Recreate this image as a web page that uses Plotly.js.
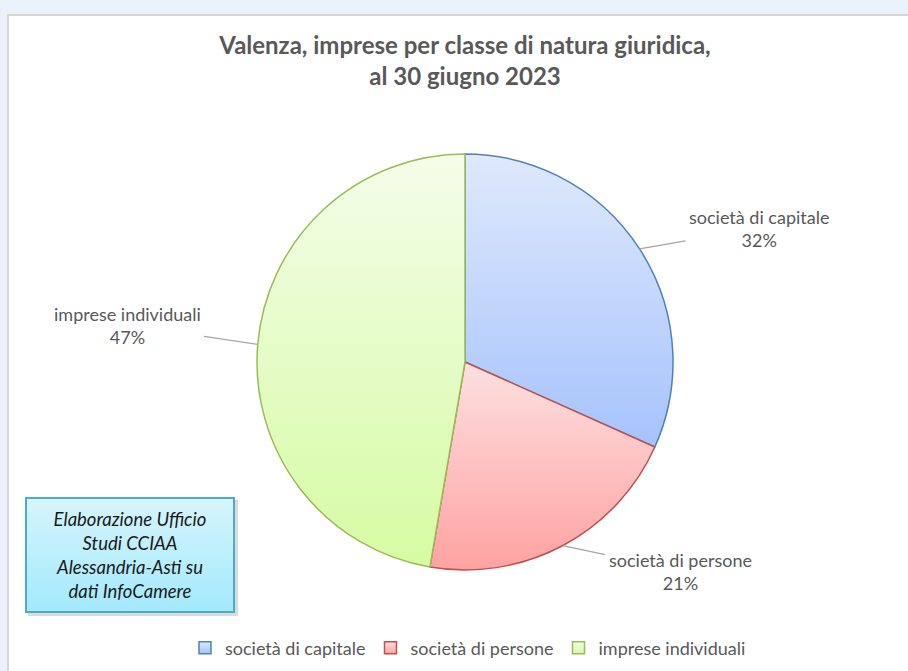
<!DOCTYPE html>
<html>
<head>
<meta charset="utf-8">
<script src="https://cdn.plot.ly/plotly-3.0.1.min.js"></script>
<style>
  html, body { margin:0; padding:0; background:#eaf1fb; width:908px; height:671px; overflow:hidden; }
  #frame { position:absolute; left:7px; top:14px; width:901px; height:657px; background:#ffffff;
           border-left:2px solid #d6d6d6; border-top:2px solid #d6d6d6; }
  #chart { position:absolute; left:0; top:0; width:908px; height:671px; }
</style>
</head>
<body>
<div id="frame"></div>
<div id="chart"></div>
<script>
// ---- data ----
const categories = ['società di capitale', 'società di persone', 'imprese individuali'];
const values = [31.7, 21.0, 47.3];
const titleText = '<b>Valenza, imprese per classe di natura giuridica,<br>al 30 giugno 2023</b>';
const sourceNote = 'Elaborazione Ufficio<br>Studi CCIAA<br>Alessandria-Asti su<br>dati InfoCamere';

// ---- styles ----
const lineColors = ['#4f81bd', '#c0504d', '#9bbb59'];
const gradTop = ['#dfe9fb', '#fde0e0', '#f4fde9'];
const gradBottom = ['#a6c3fd', '#ffa2a2', '#d6fba3'];
const fillMid = ['#c3d6fc', '#fec1c1', '#e5fcc6'];
const W = 908, H = 671;
const cx = 465, cy = 362, R = 208;
const labelPos = [[759, 228], [680, 571], [127, 325]]; // text block centres (px)
const FONT = 'Lato, "Open Sans", sans-serif';

const px = x => x / W;
const py = y => 1 - y / H;

// leader-line annotations computed from the data
const total = values.reduce((a, b) => a + b, 0);
let cum = 0;
const annotations = [];
values.forEach((v, i) => {
  const mid = (cum + v / 2) / total * 2 * Math.PI;
  cum += v;
  const tx = cx + R * Math.sin(mid);
  const ty = cy - R * Math.cos(mid);
  annotations.push({
    x: px(tx), y: py(ty), xref: 'paper', yref: 'paper',
    ax: labelPos[i][0] - tx, ay: labelPos[i][1] - ty, axref: 'pixel', ayref: 'pixel',
    text: categories[i] + '<br>' + Math.round(v / total * 100) + '%',
    showarrow: true, arrowhead: 0, arrowwidth: 1.3, arrowcolor: '#a6a6a6',
    standoff: 0, startstandoff: 2,
    font: { family: FONT, size: 18, color: '#595959' }, align: 'center'
  });
});
annotations.push({
  x: px(130), y: py(555), xref: 'paper', yref: 'paper', xanchor: 'center', yanchor: 'middle',
  text: '<i>' + sourceNote + '</i>', showarrow: false,
  font: { family: FONT, size: 18.5, color: '#1a1a1a' }, align: 'center',
  bgcolor: '#bff0fc', bordercolor: '#4bacc6', borderwidth: 2, borderpad: 0,
  width: 206, height: 112
});

const trace = {
  type: 'pie',
  labels: categories,
  values: values,
  sort: false,
  direction: 'clockwise',
  rotation: 0,
  textinfo: 'none',
  hoverinfo: 'label+percent',
  marker: { colors: fillMid, line: { color: lineColors, width: 1.5 } },
  domain: { x: [px(cx - R), px(cx + R)], y: [py(cy + R), py(cy - R)] }
};

const layout = {
  width: W, height: H,
  margin: { l: 0, r: 0, t: 0, b: 0 },
  paper_bgcolor: 'rgba(0,0,0,0)',
  plot_bgcolor: 'rgba(0,0,0,0)',
  font: { family: FONT, color: '#595959' },
  title: { text: titleText, x: px(465), xanchor: 'center', y: py(54), yanchor: 'middle',
           font: { family: FONT, size: 24, color: '#595959' } },
  showlegend: true,
  legend: { orientation: 'h', x: px(468), xanchor: 'center', y: py(648), yanchor: 'middle',
            font: { family: FONT, size: 18, color: '#595959' }, traceorder: 'normal' },
  annotations: annotations,
  shapes: [{ type: 'rect', xref: 'paper', yref: 'paper', layer: 'below',
             x0: px(28), x1: px(238), y0: py(616), y1: py(500),
             fillcolor: 'rgba(0,0,0,0.14)', line: { width: 0 } }]
};

Plotly.newPlot('chart', [trace], layout, { staticPlot: true, displayModeBar: false }).then(gd => {
  const svg = gd.querySelector('svg.main-svg');
  const ns = 'http://www.w3.org/2000/svg';
  let defs = svg.querySelector('defs');
  if (!defs) { defs = document.createElementNS(ns, 'defs'); svg.insertBefore(defs, svg.firstChild); }
  const mk = (id, c1, c2) => {
    const g = document.createElementNS(ns, 'linearGradient');
    g.setAttribute('id', id); g.setAttribute('x1', '0'); g.setAttribute('y1', '0');
    g.setAttribute('x2', '0'); g.setAttribute('y2', '1');
    [[0, c1], [1, c2]].forEach(([o, c]) => {
      const s = document.createElementNS(ns, 'stop');
      s.setAttribute('offset', o); s.setAttribute('stop-color', c); g.appendChild(s);
    });
    defs.appendChild(g);
  };
  categories.forEach((c, i) => mk('pg' + i, gradTop[i], gradBottom[i]));
  mk('boxg', '#d6f5fd', '#a3e9fc');
  gd.querySelectorAll('g.slice path.surface').forEach((p, i) => { p.style.fill = 'url(#pg' + i + ')'; });
  gd.querySelectorAll('g.legend g.traces').forEach((t, i) => {
    const p = t.querySelector('path.legendpie');
    if (p) p.style.fill = 'url(#pg' + i + ')';
  });
  const boxes = gd.querySelectorAll('g.annotation rect.bg');
  if (boxes.length) boxes[boxes.length - 1].style.fill = 'url(#boxg)';
});
</script>
</body>
</html>
